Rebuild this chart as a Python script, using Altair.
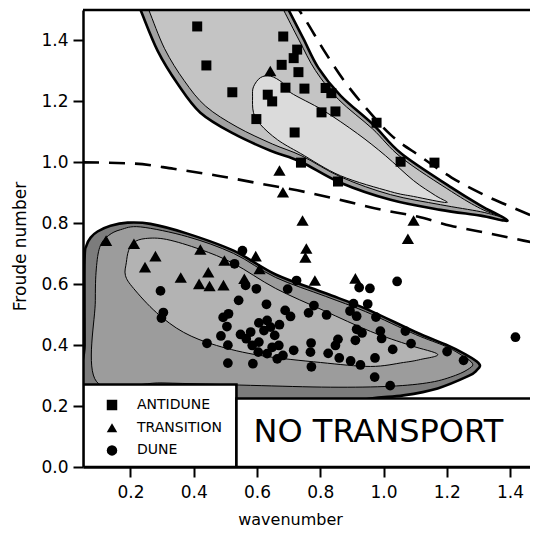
import altair as alt
import pandas as pd

# ---------------- data ----------------
REGIMES = ["ANTIDUNE", "TRANSITION", "DUNE"]

antidune_x = [0.411, 0.440, 0.522, 0.598, 0.683, 0.727, 0.716, 0.678, 0.731, 0.690, 0.634, 0.648,
              0.719, 0.750, 0.817, 0.835, 0.804, 0.848, 0.739, 0.856, 0.978, 1.054, 1.161]
antidune_y = [1.446, 1.318, 1.230, 1.142, 1.413, 1.370, 1.342, 1.320, 1.296, 1.245, 1.222, 1.200,
              1.098, 1.242, 1.244, 1.227, 1.164, 1.167, 0.999, 0.937, 1.130, 1.002, 0.999]

transition_x = [0.123, 0.211, 0.279, 0.246, 0.359, 0.421, 0.446, 0.417, 0.450, 0.494, 0.497, 0.560,
                0.596, 0.608, 0.642, 0.671, 0.682, 0.744, 0.756, 0.753, 0.783, 0.911, 1.095, 1.077]
transition_y = [0.743, 0.733, 0.692, 0.656, 0.622, 0.714, 0.639, 0.601, 0.594, 0.597, 0.678, 0.618,
                0.692, 0.650, 1.300, 0.973, 0.902, 0.809, 0.717, 0.688, 0.612, 0.619, 0.809, 0.749]

dune_x = [0.295, 0.304, 0.298, 0.442, 0.493, 0.510, 0.505, 0.486, 0.508, 0.508, 0.554, 0.529,
          0.564, 0.598, 0.542, 0.630, 0.689, 0.706, 0.697, 0.725, 0.763, 0.780, 0.548, 0.566,
          0.580, 0.585, 0.604, 0.606, 0.622, 0.632, 0.643, 0.656, 0.671, 0.606, 0.648, 0.669,
          0.682, 0.664, 0.716, 0.632, 0.587, 0.771, 0.769, 0.772, 0.820, 0.905, 0.923, 0.957,
          0.950, 0.894, 0.915, 0.976, 0.990, 0.994, 0.915, 0.932, 0.911, 0.856, 0.848, 0.825,
          0.860, 0.896, 0.927, 0.973, 1.029, 1.069, 1.087, 0.972, 1.021, 1.043, 1.201, 1.253,
          1.417]
dune_y = [0.578, 0.507, 0.489, 0.406, 0.491, 0.503, 0.461, 0.430, 0.400, 0.341, 0.710, 0.667,
          0.596, 0.585, 0.547, 0.534, 0.514, 0.494, 0.584, 0.612, 0.506, 0.530, 0.435, 0.421,
          0.443, 0.399, 0.377, 0.473, 0.448, 0.481, 0.459, 0.432, 0.467, 0.410, 0.393, 0.399,
          0.366, 0.355, 0.383, 0.372, 0.339, 0.407, 0.377, 0.329, 0.499, 0.536, 0.589, 0.586,
          0.535, 0.512, 0.495, 0.492, 0.446, 0.422, 0.452, 0.440, 0.416, 0.419, 0.399, 0.373,
          0.358, 0.348, 0.335, 0.358, 0.386, 0.446, 0.405, 0.295, 0.267, 0.609, 0.379, 0.350,
          0.426]

# antidune stability field (nested contours)
upper_outer_x = [0.208, 0.232, 0.286, 0.349, 0.421, 0.526, 0.643, 0.738, 0.864, 1.022, 1.180, 1.307,
                 1.392, 1.307, 1.215, 1.057, 0.968, 0.864, 0.794, 0.747, 0.700, 0.670, 0.450]
upper_outer_y = [1.560, 1.500, 1.366, 1.258, 1.163, 1.094, 1.038, 1.002, 0.933, 0.877, 0.844, 0.825,
                 0.809, 0.858, 0.917, 1.028, 1.123, 1.219, 1.310, 1.405, 1.500, 1.560, 1.590]
upper_mid_x = [0.234, 0.258, 0.308, 0.370, 0.438, 0.537, 0.649, 0.742, 0.867, 1.022, 1.180, 1.307,
               1.370, 1.307, 1.215, 1.057, 0.965, 0.858, 0.785, 0.734, 0.684, 0.655, 0.450]
upper_mid_y = [1.560, 1.500, 1.373, 1.268, 1.184, 1.116, 1.060, 1.021, 0.951, 0.894, 0.861, 0.838,
               0.822, 0.848, 0.904, 1.015, 1.110, 1.206, 1.301, 1.399, 1.500, 1.560, 1.590]
upper_inner_x = [0.611, 0.643, 0.681, 0.706, 0.810, 0.918, 1.006, 1.095, 1.164, 1.199, 1.095, 1.022,
                 0.864, 0.738, 0.665, 0.611, 0.589, 0.586, 0.589]
upper_inner_y = [1.278, 1.283, 1.261, 1.229, 1.170, 1.094, 1.022, 0.940, 0.891, 0.868, 0.888, 0.904,
                 0.956, 1.029, 1.074, 1.124, 1.163, 1.215, 1.248]

# dune stability field (nested contours)
lower_outer_x = [0.055, 0.055, 0.061, 0.074, 0.096, 0.137, 0.191, 0.263, 0.380, 0.526, 0.659, 0.817,
                 0.943, 1.101, 1.196, 1.259, 1.294, 1.305, 1.294, 1.269, 1.171, 1.063, 0.959, 0.800,
                 0.400, 0.055]
lower_outer_y = [0.400, 0.678, 0.727, 0.753, 0.773, 0.792, 0.802, 0.798, 0.766, 0.710, 0.632, 0.570,
                 0.520, 0.443, 0.402, 0.370, 0.347, 0.332, 0.317, 0.299, 0.258, 0.235, 0.225, 0.200,
                 0.200, 0.200]
lower_mid_x = [0.093, 0.089, 0.093, 0.105, 0.131, 0.169, 0.232, 0.380, 0.526, 0.659, 0.817, 0.943,
               1.101, 1.196, 1.253, 1.281, 1.272, 1.228, 1.149, 1.022, 0.832, 0.580, 0.300]
lower_mid_y = [0.280, 0.547, 0.661, 0.727, 0.760, 0.779, 0.788, 0.756, 0.701, 0.622, 0.560, 0.510,
               0.435, 0.396, 0.363, 0.340, 0.324, 0.301, 0.278, 0.265, 0.262, 0.268, 0.276]
lower_inner_x = [0.187, 0.194, 0.210, 0.248, 0.314, 0.421, 0.526, 0.659, 0.810, 0.959, 1.085, 1.171,
                 1.117, 1.063, 0.959, 0.801, 0.611, 0.472, 0.368, 0.282, 0.210, 0.184]
lower_inner_y = [0.671, 0.710, 0.737, 0.750, 0.747, 0.714, 0.668, 0.586, 0.514, 0.445, 0.399, 0.370,
                 0.353, 0.343, 0.330, 0.343, 0.366, 0.399, 0.442, 0.507, 0.586, 0.629]

# dashed boundaries
dash_low_x = [0.050, 0.210, 0.336, 0.475, 0.611, 0.760, 0.886, 0.991, 1.107, 1.212, 1.338, 1.443, 1.490]
dash_low_y = [1.000, 0.996, 0.979, 0.956, 0.930, 0.901, 0.871, 0.845, 0.822, 0.792, 0.766, 0.743, 0.733]
dash_high_x = [0.713, 0.747, 0.810, 0.873, 0.949, 1.022, 1.117, 1.215, 1.322, 1.430, 1.490]
dash_high_y = [1.530, 1.478, 1.370, 1.271, 1.173, 1.091, 1.019, 0.950, 0.891, 0.842, 0.815]

# white boxes (legend panel and "no transport" field)
box_x = [0.05, 0.535]
box_x2 = [0.535, 1.60]
box_y = [0.0, 0.0]
box_y2 = [0.271, 0.225]

nt_label = ["NO TRANSPORT"]
nt_x = [0.984]
nt_y = [0.114]

x_ticks = [0.2, 0.4, 0.6, 0.8, 1.0, 1.2, 1.4]
y_ticks = [0.0, 0.2, 0.4, 0.6, 0.8, 1.0, 1.2, 1.4]

# ---------------- chart ----------------
FONT = "DejaVu Sans"
W, H = 447, 457
xs = alt.Scale(domain=[0.05, 1.463], nice=False, zero=False)
ys = alt.Scale(domain=[0.0, 1.5], nice=False, zero=False)

bottom_axis = alt.Axis(orient="bottom", values=x_ticks, format=".1f",
                       grid=False, domainColor="black", domainWidth=2.5, tickColor="black",
                       tickWidth=2, tickSize=10, labelFont=FONT, labelFontSize=17,
                       labelColor="black", labelPadding=7, titleFont=FONT, titleFontSize=16,
                       titleFontWeight="normal", titleColor="black", titleX=207, titleY=52,
                       titleBaseline="middle", zindex=1)
left_axis = alt.Axis(orient="left", values=y_ticks, format=".1f",
                     grid=False, domainColor="black", domainWidth=2.5, tickColor="black",
                     tickWidth=2, tickSize=10, labelFont=FONT, labelFontSize=17,
                     labelColor="black", labelPadding=5, titleFont=FONT, titleFontSize=17,
                     titleFontWeight="normal", titleColor="black", titleX=-63, titleY=236,
                     titleBaseline="middle", titleAlign="center", zindex=1)


def X():
    return alt.X("x:Q", scale=xs, axis=bottom_axis, title="wavenumber")


def Y():
    return alt.Y("y:Q", scale=ys, axis=left_axis, title="Froude number")


def poly(xv, yv, fill, sw):
    df = pd.DataFrame({"x": xv, "y": yv, "i": list(range(len(xv)))})
    return alt.Chart(df).mark_line(
        fill=fill, stroke="black", strokeWidth=sw, interpolate="cardinal-closed", clip=True
    ).encode(x=X(), y=Y(), order=alt.Order("i:Q"))


layers = [
    poly(upper_outer_x, upper_outer_y, "#a2a2a2", 2.6),
    poly(upper_mid_x, upper_mid_y, "#c4c4c4", 1.0),
    poly(upper_inner_x, upper_inner_y, "#dbdbdb", 1.0),
    poly(lower_outer_x, lower_outer_y, "#7c7c7c", 2.6),
    poly(lower_mid_x, lower_mid_y, "#9c9c9c", 1.0),
    poly(lower_inner_x, lower_inner_y, "#b3b3b3", 1.0),
]

dash_df = pd.DataFrame({
    "x": dash_low_x + dash_high_x,
    "y": dash_low_y + dash_high_y,
    "line": ["low"] * len(dash_low_x) + ["high"] * len(dash_high_x),
})
layers.append(
    alt.Chart(dash_df).mark_line(color="black", strokeWidth=2.6, strokeDash=[16, 10],
                                 interpolate="monotone", clip=True).encode(
        x=X(), y=Y(), detail="line:N",
    )
)

legend = alt.Legend(orient="none", legendX=22, legendY=388, title=None, labelFont=FONT,
                    labelFontSize=14, labelColor="black", symbolSize=110,
                    symbolFillColor="black", symbolStrokeColor="black", rowPadding=5.7,
                    labelOffset=18, padding=0)
shape_scale = alt.Scale(domain=REGIMES, range=["square", "triangle-up", "circle"])

for name, xv, yv, size in [("ANTIDUNE", antidune_x, antidune_y, 100),
                           ("TRANSITION", transition_x, transition_y, 150),
                           ("DUNE", dune_x, dune_y, 95)]:
    df = pd.DataFrame({"x": xv, "y": yv, "regime": [name] * len(xv)})
    layers.append(
        alt.Chart(df).mark_point(filled=True, color="black", size=size, opacity=1,
                                 strokeWidth=0).encode(
            x=X(), y=Y(),
            shape=alt.Shape("regime:N", scale=shape_scale, legend=legend),
        )
    )

box_df = pd.DataFrame({"x": box_x, "x2": box_x2, "y": box_y, "y2": box_y2})
layers.append(
    alt.Chart(box_df).mark_rect(fill="white", stroke="black", strokeWidth=2.6, clip=True).encode(
        x=X(), x2="x2:Q", y=Y(), y2="y2:Q",
    )
)

nt_df = pd.DataFrame({"label": nt_label, "x": nt_x, "y": nt_y})
layers.append(
    alt.Chart(nt_df).mark_text(font=FONT, fontSize=32, color="black", align="center",
                               baseline="middle").encode(
        x=X(), y=Y(), text="label:N",
    )
)

# frame line along the top of the plot
layers.append(
    alt.Chart(pd.DataFrame({"k": [0]})).mark_rule(color="black", strokeWidth=2.6).encode(
        y=alt.value(0), x=alt.value(0), x2=alt.value(W),
    )
)

chart = alt.layer(*layers).properties(
    width=W, height=H,
    autosize=alt.AutoSizeParams(type="none"),
    padding={"left": 75, "top": 2, "right": 0, "bottom": 62},
    background="white",
).configure_view(stroke=None)

chart.save("out.html", embed_options={"renderer": "svg", "actions": False})
